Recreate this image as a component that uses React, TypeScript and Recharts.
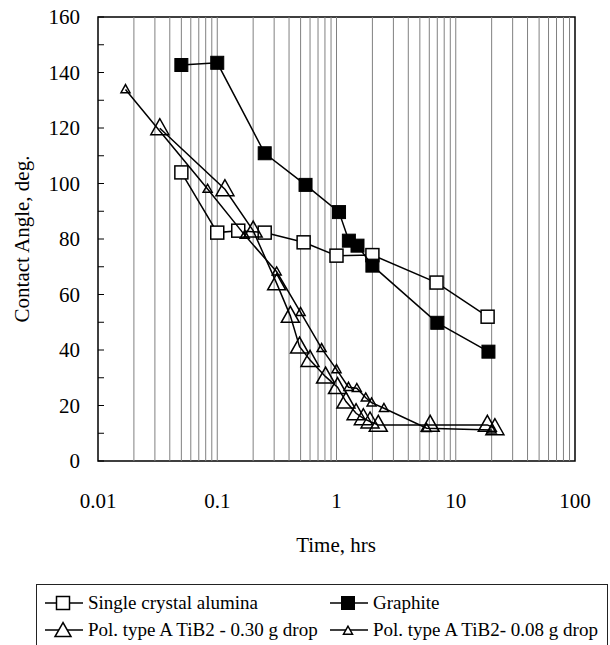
import React from 'react';
import { ScatterChart, Scatter, XAxis, YAxis, ReferenceLine, ReferenceArea } from 'recharts';

// values
const aluminaTime = [0.05, 0.1, 0.15, 0.25, 0.53, 1.0, 2.0, 6.9, 18.5];
const aluminaAngle = [104, 82.3, 83, 82.3, 78.8, 74, 74.2, 64.3, 52];

const graphiteTime = [0.05, 0.1, 0.25, 0.55, 1.05, 1.27, 1.5, 2.0, 7.0, 18.8];
const graphiteAngle = [142.7, 143.5, 110.9, 99.5, 89.7, 79.4, 77.6, 70.4, 49.8, 39.4];

const tib30Time = [0.033, 0.116, 0.2, 0.315, 0.41, 0.49, 0.6, 0.81, 1.02, 1.2, 1.46, 1.68, 1.91, 2.24, 6.1, 18.4, 21.3];
const tib30Angle = [119.9, 97.9, 83, 64, 52.3, 41.2, 36.4, 30.4, 26.6, 21.4, 17.2, 15.4, 14.2, 13, 13, 13, 11.8];

const tib08Time = [0.017, 0.083, 0.17, 0.315, 0.5, 0.75, 1.0, 1.26, 1.48, 1.76, 1.97, 2.5, 5.7, 20];
const tib08Angle = [133.9, 98, 81.4, 68.2, 53.6, 40.6, 33, 26.6, 26.2, 22.8, 21, 19, 11.8, 11.2];

const xTicks = [0.01, 0.1, 1, 10, 100];
const yTicks = [0, 10, 20, 30, 40, 50, 60, 70, 80, 90, 100, 110, 120, 130, 140, 150, 160];
const gridTimes = [
  0.02, 0.03, 0.04, 0.05, 0.06, 0.07, 0.08, 0.09,
  0.1, 0.2, 0.3, 0.4, 0.5, 0.6, 0.7, 0.8, 0.9,
  1, 2, 3, 4, 5, 6, 7, 8, 9,
  10, 20, 30, 40, 50, 60, 70, 80, 90,
];

const legendNames = [
  'Single crystal alumina',
  'Graphite',
  'Pol. type A TiB2 - 0.30 g drop',
  'Pol. type A TiB2- 0.08 g drop',
];

const zip = (t: number[], a: number[]) => t.map((time, i) => ({ time, angle: a[i] }));

const FONT = "'Liberation Serif', Tinos, 'DejaVu Serif', serif";
const PLOT_LEFT = 98;
const PLOT_BOTTOM = 461;

const OpenSquare = (p: any) => (
  <rect x={p.cx - 6.5} y={p.cy - 6.5} width={13} height={13} fill="#fff" stroke="#000" strokeWidth={1.5} />
);
const FilledSquare = (p: any) => (
  <rect x={p.cx - 6.5} y={p.cy - 6.5} width={13} height={13} fill="#000" stroke="#000" strokeWidth={1} />
);
const tri = (cx: number, cy: number, w: number, h: number) =>
  `${cx},${cy - h * 0.6} ${cx - w / 2},${cy + h * 0.4} ${cx + w / 2},${cy + h * 0.4}`;
const BigTriangle = (p: any) => (
  <polygon points={tri(p.cx, p.cy, 18, 16)} fill="#fff" fillOpacity={0} stroke="#000" strokeWidth={1.5} />
);
const SmallTriangle = (p: any) => (
  <polygon points={tri(p.cx, p.cy, 9, 8)} fill="#fff" fillOpacity={0} stroke="#000" strokeWidth={1.5} />
);

const YTick = (p: any) => {
  const v = p.payload.value;
  return (
    <g>
      <line x1={PLOT_LEFT} x2={PLOT_LEFT + 6} y1={p.y} y2={p.y} stroke="#000" strokeWidth={1} />
      {v % 20 === 0 && (
        <text x={80} y={p.y} textAnchor="end" dominantBaseline="central" fontSize={21} style={{ fontFamily: FONT }} fill="#000">
          {v}
        </text>
      )}
    </g>
  );
};

const XTick = (p: any) => (
  <text x={p.x} y={PLOT_BOTTOM + 40} textAnchor="middle" dominantBaseline="central" fontSize={21} style={{ fontFamily: FONT }} fill="#000">
    {p.payload.value}
  </text>
);

const LegendIcon = ({ kind }: { kind: number }) => (
  <svg width={40} height={20} style={{ display: 'block' }}>
    <line x1={1} x2={39} y1={10} y2={10} stroke="#000" strokeWidth={1.5} />
    {kind === 0 && <OpenSquare cx={19} cy={10} />}
    {kind === 1 && <FilledSquare cx={19} cy={10} />}
    {kind === 2 && <polygon points={tri(19, 11, 16, 14)} fill="#fff" stroke="#000" strokeWidth={1.5} />}
    {kind === 3 && <polygon points={tri(19, 11, 9, 8)} fill="#fff" stroke="#000" strokeWidth={1.5} />}
  </svg>
);

const legendPos = [
  { left: 7, top: 8 },
  { left: 292, top: 8 },
  { left: 7, top: 35 },
  { left: 292, top: 35 },
];

export default function App() {
  return (
    <div style={{ position: 'absolute', left: 0, top: 0, width: 610, height: 645, background: '#fff', overflow: 'hidden' }}>
      <ScatterChart width={610} height={645} margin={{ top: 17, right: 35, bottom: 124, left: 0 }}>
        <XAxis
          dataKey="time"
          type="number"
          scale="log"
          domain={[0.01, 100]}
          ticks={xTicks}
          interval={0}
          allowDataOverflow
          height={60}
          axisLine={false}
          tickLine={false}
          tick={<XTick />}
          label={{
            content: () => (
              <text x={336} y={545} textAnchor="middle" dominantBaseline="central" fontSize={21} style={{ fontFamily: FONT }} fill="#000">
                Time, hrs
              </text>
            ),
          }}
        />
        <YAxis
          dataKey="angle"
          type="number"
          domain={[0, 160]}
          ticks={yTicks}
          interval={0}
          width={98}
          axisLine={false}
          tickLine={false}
          tick={<YTick />}
          label={{
            content: () => (
              <text x={22} y={239} transform="rotate(-90 22 239)" textAnchor="middle" dominantBaseline="central" fontSize={21} style={{ fontFamily: FONT }} fill="#000">
                Contact Angle, deg.
              </text>
            ),
          }}
        />
        {gridTimes.map((t) => (
          <ReferenceLine key={t} x={t} stroke="#808080" strokeWidth={1} />
        ))}
        <ReferenceArea x1={0.01} x2={100} y1={0} y2={160} fill="none" stroke="#000" strokeWidth={1.5} />
        <Scatter data={zip(aluminaTime, aluminaAngle)} line={{ stroke: '#000', strokeWidth: 1.5 }} shape={OpenSquare} isAnimationActive={false} />
        <Scatter data={zip(graphiteTime, graphiteAngle)} line={{ stroke: '#000', strokeWidth: 1.5 }} shape={FilledSquare} isAnimationActive={false} />
        <Scatter data={zip(tib30Time, tib30Angle)} line={{ stroke: '#000', strokeWidth: 1.5 }} shape={BigTriangle} isAnimationActive={false} />
        <Scatter data={zip(tib08Time, tib08Angle)} line={{ stroke: '#000', strokeWidth: 1.5 }} shape={SmallTriangle} isAnimationActive={false} />
      </ScatterChart>
      <div
        style={{
          position: 'absolute',
          left: 36,
          top: 584,
          width: 572,
          height: 80,
          border: '1px solid #222',
          boxSizing: 'border-box',
          fontFamily: FONT,
          fontSize: 19,
          color: '#000',
        }}
      >
        {legendNames.map((name, i) => (
          <div
            key={name}
            style={{ position: 'absolute', left: legendPos[i].left, top: legendPos[i].top, display: 'flex', alignItems: 'center', whiteSpace: 'nowrap', lineHeight: '20px' }}
          >
            <LegendIcon kind={i} />
            <span style={{ marginLeft: 4 }}>{name}</span>
          </div>
        ))}
      </div>
    </div>
  );
}
